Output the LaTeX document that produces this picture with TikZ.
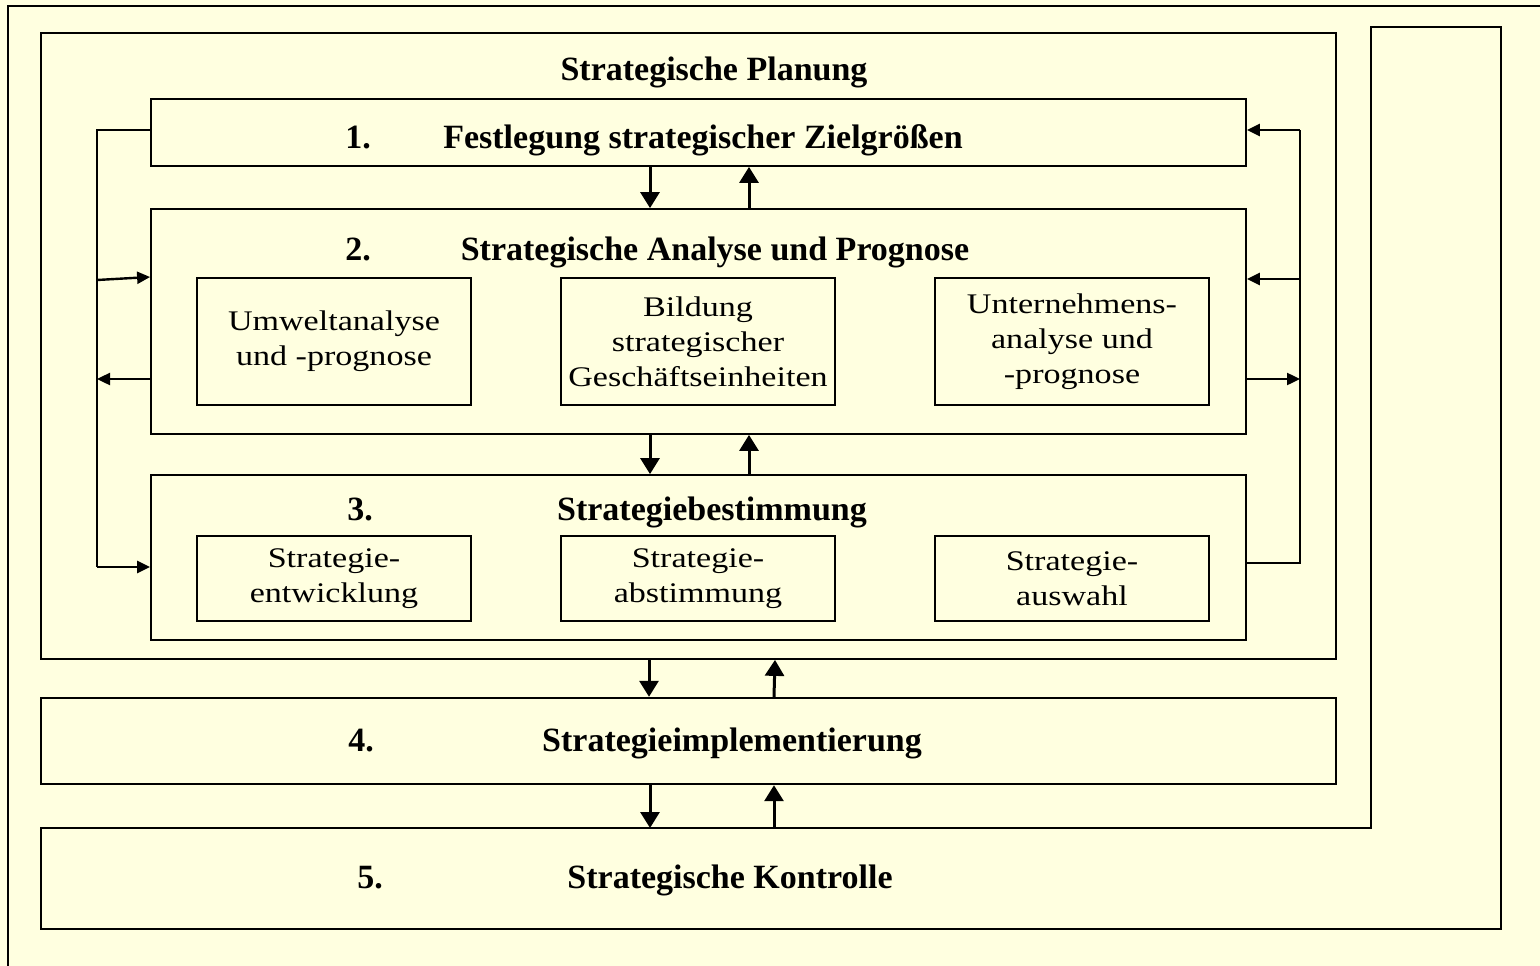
\documentclass[tikz,border=0pt]{standalone}
\usepackage{fontspec}
\setmainfont{Liberation Serif}
\newfontfamily\teilschrift{Liberation Serif}[FakeStretch=1.2]
\usetikzlibrary{arrows.meta,positioning}
\definecolor{papier}{RGB}{255,255,224}

\tikzset{
  rahmen/.style={draw,line width=1.8pt,inner sep=0pt},
  teil/.style={draw,line width=1.5pt,inner sep=0pt,align=center,
    minimum width=274pt,font=\teilschrift\fontsize{28.4}{35}\selectfont},
  titel/.style={anchor=base,font=\bfseries\fontsize{34}{36}\selectfont},
  linie/.style={line width=1.6pt},
  pfeil/.style={line width=2.4pt,-{Triangle[length=13pt,width=12pt]}},
  vpfeil/.style={line width=3pt,-{Triangle[length=16pt,width=19pt]}},
}

\begin{document}
\begin{tikzpicture}[x=1pt,y=-1pt]
  \useasboundingbox (0,0) rectangle (1540,966);
  \fill[papier] (0,0) rectangle (1540,966);
  \draw[line width=2.5pt] (8,966) -- (8,6) -- (1540,6);

  % Strategische Planung
  \node[rahmen,minimum width=1295pt,minimum height=626pt] (plan) at (688.5,346) {};
  \node[titel] (plantitel) at (714,81) {Strategische Planung};

  % Schritt 1
  \node[rahmen,minimum width=1095pt,minimum height=67pt] (b1) at (698.5,132.5) {};
  \node[titel] (n1) at (358,148) {1.};
  \node[titel] (t1) at (703,148) {Festlegung strategischer Zielgrößen};

  % Schritt 2
  \node[rahmen,minimum width=1095pt,minimum height=225pt] (b2) at (698.5,321.5) {};
  \node[titel] (n2) at (358,260) {2.};
  \node[titel] (t2) at (715,260) {Strategische Analyse und Prognose};
  \node[teil,minimum height=127pt] (umwelt) at (334,341.5) {Umweltanalyse\\und -prognose};
  \node[teil,minimum height=127pt] (sge) at (698,341.5) {Bildung\\strategischer\\Geschäftseinheiten};
  \node[teil,minimum height=127pt] (unt) at (1072,341.5) {Unternehmens-\\analyse und\\-prognose};

  % Schritt 3
  \node[rahmen,minimum width=1095pt,minimum height=165pt] (b3) at (698.5,557.5) {};
  \node[titel] (n3) at (360,520) {3.};
  \node[titel] (t3) at (712,520) {Strategiebestimmung};
  \node[teil,minimum height=85pt] (entw) at (334,578.5) {Strategie-\\entwicklung};
  \node[teil,minimum height=85pt] (abst) at (698,578.5) {Strategie-\\abstimmung};
  \node[teil,minimum height=85pt] (ausw) at (1072,578.5) {Strategie-\\auswahl};

  % Schritt 4
  \node[rahmen,line width=2.4pt,minimum width=1295pt,minimum height=86pt] (b4) at (688.5,741) {};
  \node[titel] (n4) at (361,751) {4.};
  \node[titel] (t4) at (732,751) {Strategieimplementierung};

  % Schritt 5
  \draw[line width=2.4pt] (41,828) -- (1371,828) -- (1371,27) -- (1501,27)
    -- (1501,929) -- (41,929) -- cycle;
  \coordinate (b5) at (0,828);
  \node[titel] (n5) at (370,888) {5.};
  \node[titel] (t5) at (730,888) {Strategische Kontrolle};

  % Rueckkopplung links
  \coordinate (lo) at (97,130);
  \coordinate (lu) at (97,567);
  \draw[linie] (b1.west |- lo) -- (lo) -- (lu);
  \draw[pfeil] (97,280) -- (b2.west |- 0,277);
  \draw[pfeil] (b2.west |- 0,379) -- (97,379);
  \draw[pfeil] (lu) -- (b3.west |- lu);

  % Rueckkopplung rechts
  \coordinate (ro) at (1300,130);
  \coordinate (ru) at (1300,563);
  \draw[linie] (b3.east |- ru) -- (ru) -- (ro);
  \draw[pfeil] (ro) -- (b1.east |- ro);
  \draw[pfeil] (1300,279) -- (b2.east |- 0,279);
  \draw[pfeil] (b2.east |- 0,379) -- (1300,379);

  % Pfeile zwischen den Schritten
  \draw[vpfeil] (b1.south -| 650,0) -- (b2.north -| 650,0);
  \draw[vpfeil] (b2.north -| 749,0) -- (b1.south -| 749,0);
  \draw[vpfeil] (b2.south -| 650,0) -- (b3.north -| 650,0);
  \draw[vpfeil] (b3.north -| 749,0) -- (b2.south -| 749,0);
  \draw[vpfeil] (plan.south -| 649,0) -- (b4.north -| 649,0);
  \draw[vpfeil] (b4.north -| 774,0) -- (plan.south -| 775,0);
  \draw[vpfeil] (b4.south -| 650,0) -- (b5 -| 650,0);
  \draw[vpfeil] (b5 -| 774,0) -- (b4.south -| 774,0);
\end{tikzpicture}
\end{document}
